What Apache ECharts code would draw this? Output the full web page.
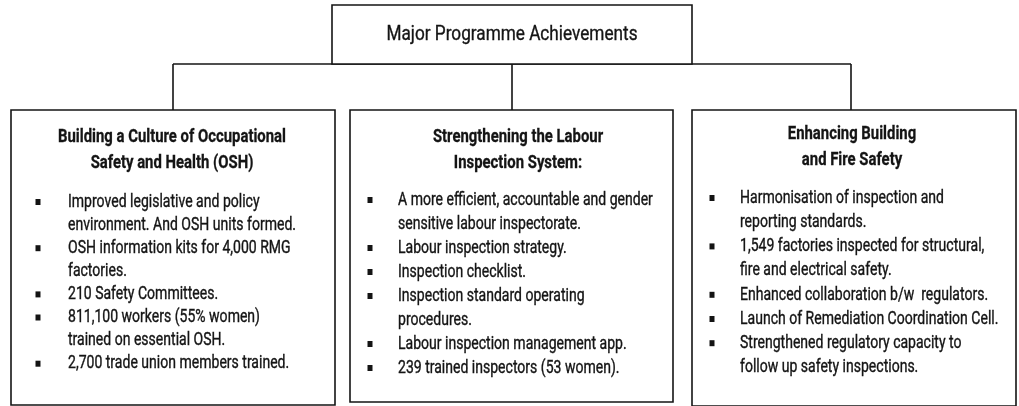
<!DOCTYPE html>
<html><head><meta charset="utf-8">
<script src="https://cdn.jsdelivr.net/npm/echarts@6/dist/echarts.min.js"></script>
<style>html,body{margin:0;padding:0;background:#fff}#c{width:1019px;height:406px}</style>
</head><body><div id="c"></div>
<script>
// ---- content ----
var rootTitle = 'Major Programme Achievements';
var branchTitles = [
  'Building a Culture of Occupational\nSafety and Health (OSH)',
  'Strengthening the Labour\nInspection System:',
  'Enhancing Building\nand Fire Safety'
];
var itemsOSH = [
  'Improved legislative and policy\nenvironment. And OSH units formed.',
  'OSH information kits for 4,000 RMG\nfactories.',
  '210 Safety Committees.',
  '811,100 workers (55% women)\ntrained on essential OSH.',
  '2,700 trade union members trained.'
];
var itemsInspection = [
  'A more efficient, accountable and gender\nsensitive labour inspectorate.',
  'Labour inspection strategy.',
  'Inspection checklist.',
  'Inspection standard operating\nprocedures.',
  'Labour inspection management app.',
  '239 trained inspectors (53 women).'
];
var itemsSafety = [
  'Harmonisation of inspection and\nreporting standards.',
  '1,549 factories inspected for structural,\nfire and electrical safety.',
  'Enhanced collaboration b/w  regulators.',
  'Launch of Remediation Coordination Cell.',
  'Strengthened regulatory capacity to\nfollow up safety inspections.'
];
var branchItems = [itemsOSH, itemsInspection, itemsSafety];

// ---- layout (diagram space, same units as hidden axes) ----
var layout = {
  root: {x0: 332, y0: 5, x1: 692, y1: 64, ty: 35},
  busY: 64,
  boxes: [
    {x0: 11,  x1: 335,  y0: 110, y1: 405, stem: 173, tcx: 172, ty: 137, tlh: 26, bx: 38,  tx: 68,  iy: 202, lh: 23.1},
    {x0: 350, x1: 673,  y0: 110, y1: 402, stem: 512, tcx: 518, ty: 137, tlh: 26, bx: 370, tx: 398, iy: 200, lh: 24},
    {x0: 692, x1: 1016, y0: 110, y1: 406, stem: 851, tcx: 852, ty: 134, tlh: 26, bx: 712, tx: 740, iy: 198, lh: 24.2}
  ]
};
var FAMILY = 'Roboto, "Liberation Sans", sans-serif';
var F_ROOT = 'normal 20px ' + FAMILY;
var F_HEAD = 'bold 19px ' + FAMILY;
var F_ITEM = 'normal 19px ' + FAMILY;
var INK = '#141414';
var LW = 1.6;

// condensed look: horizontal squeeze so sample strings match the reference widths
var mctx = document.createElement('canvas').getContext('2d');
function squeeze(font, sample, width) { mctx.font = font; return width / mctx.measureText(sample).width; }
var SX_ROOT, SX_HEAD, SX_ITEM;

function P(api, x, y) { return api.coord([x, y]); }
function line(api, x0, y0, x1, y1) {
  var a = P(api, x0, y0), b = P(api, x1, y1);
  return {type: 'line', shape: {x1: a[0], y1: a[1], x2: b[0], y2: b[1]}, style: {stroke: INK, lineWidth: LW}};
}
function rect(api, x0, y0, x1, y1) {
  var a = P(api, x0, y0), b = P(api, x1, y1);
  return {type: 'rect', shape: {x: a[0], y: a[1], width: b[0] - a[0], height: b[1] - a[1]},
    style: {fill: '#fff', stroke: INK, lineWidth: LW}};
}
function txt(api, x, y, s, font, align, sx, thick) {
  var a = P(api, x, y);
  return {type: 'text', x: a[0], y: a[1], scaleX: sx, style: {x: 0, y: 0, text: s, font: font, fill: INK,
    stroke: INK, lineWidth: thick,
    align: align, verticalAlign: 'middle', textAlign: align, textVerticalAlign: 'middle'}};
}

var nodes = [-1, 0, 1, 2]; // -1 root, 0..2 branches

function renderItem(params, api) {
  var idx = nodes[params.dataIndex];
  var ch = [];
  if (idx === -1) {
    var r = layout.root;
    var L = layout.boxes;
    ch.push(line(api, L[0].stem, layout.busY, L[2].stem, layout.busY));
    L.forEach(function (b) { ch.push(line(api, b.stem, layout.busY, b.stem, b.y0)); });
    ch.push(rect(api, r.x0, r.y0, r.x1, r.y1));
    ch.push(txt(api, 512, r.ty, rootTitle, F_ROOT, 'center', SX_ROOT, 0.35));
  } else {
    var b = layout.boxes[idx];
    ch.push(rect(api, b.x0, b.y0, b.x1, b.y1));
    branchTitles[idx].split('\n').forEach(function (t, i) {
      ch.push(txt(api, b.tcx, b.ty + i * b.tlh, t, F_HEAD, 'center', SX_HEAD, 0.3));
    });
    var k = 0;
    branchItems[idx].forEach(function (it) {
      var y = b.iy + k * b.lh;
      var c = P(api, b.bx, y);
      ch.push({type: 'rect', shape: {x: c[0] - 2.5, y: c[1] - 3, width: 5, height: 6}, style: {fill: INK}});
      it.split('\n').forEach(function (t) {
        ch.push(txt(api, b.tx, b.iy + k * b.lh, t, F_ITEM, 'left', SX_ITEM, 0.4));
        k++;
      });
    });
  }
  return {type: 'group', children: ch};
}

function draw() {
  SX_ROOT = squeeze(F_ROOT, rootTitle, 251);
  SX_HEAD = squeeze(F_HEAD, 'Building a Culture of Occupational', 228);
  SX_ITEM = squeeze(F_ITEM, 'environment. And OSH units formed.', 228);
  var chart = echarts.init(document.getElementById('c'), null, {renderer: 'canvas'});
  chart.setOption({
    animation: false,
    backgroundColor: '#fff',
    grid: {left: 0, right: 0, top: 0, bottom: 0},
    xAxis: {type: 'value', min: 0, max: 1019, show: false},
    yAxis: {type: 'value', min: 0, max: 406, inverse: true, show: false},
    series: [{
      type: 'custom',
      coordinateSystem: 'cartesian2d',
      clip: false,
      data: nodes.map(function (n, i) { return [i, 0]; }),
      renderItem: renderItem
    }]
  });
}
if (document.fonts && document.fonts.load) {
  Promise.all([document.fonts.load(F_ROOT), document.fonts.load(F_HEAD), document.fonts.load(F_ITEM)])
    .then(draw, draw);
} else { draw(); }
</script></body></html>
